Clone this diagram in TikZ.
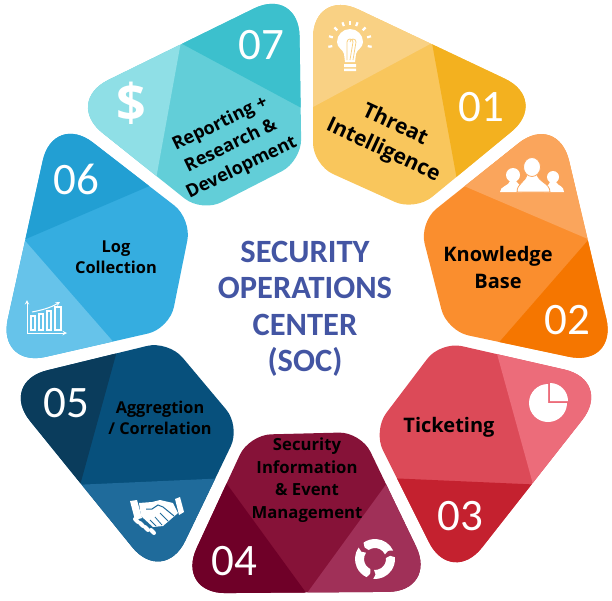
\documentclass[tikz,border=0pt]{standalone}
\usepackage{fontspec}
\setmainfont{Open Sans}
\newfontfamily\titlefont{Carlito}
\definecolor{lite1}{HTML}{F9D184}\definecolor{mid1}{HTML}{F9C65C}\definecolor{dark1}{HTML}{F3B11F}
\definecolor{lite2}{HTML}{FAA55C}\definecolor{mid2}{HTML}{FA8E2E}\definecolor{dark2}{HTML}{F57600}
\definecolor{lite3}{HTML}{EC6C7A}\definecolor{mid3}{HTML}{DC4A58}\definecolor{dark3}{HTML}{C4212F}
\definecolor{lite4}{HTML}{A03058}\definecolor{mid4}{HTML}{861238}\definecolor{dark4}{HTML}{6F0028}
\definecolor{lite5}{HTML}{1F6B9B}\definecolor{mid5}{HTML}{07507C}\definecolor{dark5}{HTML}{0A3C5C}
\definecolor{lite6}{HTML}{66C3EA}\definecolor{mid6}{HTML}{35ADE0}\definecolor{dark6}{HTML}{229FD3}
\definecolor{lite7}{HTML}{8FDFE6}\definecolor{mid7}{HTML}{62CED8}\definecolor{dark7}{HTML}{3CC0CD}
\definecolor{titleblue}{HTML}{4355A3}
\tikzset{
    lbl/.style={font=\bfseries\fontsize{20}{27}\selectfont, align=center, text=black, inner sep=0pt},
    num/.style={font=\titlefont\fontsize{45}{45}\selectfont, text=white, inner sep=0pt},
    icon/.style={fill=white, draw=none}
}
\newcommand{\petalpath}{(313,60) [rounded corners=50pt] -- (313,-12) -- (550,100) [rounded corners=22pt] -- (415,211) -- (313,165) -- cycle}
\begin{document}
\begin{tikzpicture}[x=1pt, y=-1pt]
    \useasboundingbox (0,0) rectangle (612,600);

    % Seven petals, one outline turned round the centre
    \foreach \n [evaluate=\n as \ang using -(\n-1)*360/7] in {1,...,7} {
        \begin{scope}[rotate around={\ang:(306.5,304)}]
            \clip \petalpath;
            \fill[mid\n] (300,-20) rectangle (560,220);
            \fill[lite\n] (300,-20) -- (432,43) -- (300,114) -- cycle;
            \fill[dark\n] (432,43) -- (560,100) -- (560,180) -- (457,180) -- cycle;
        \end{scope}
    }

    % Title
    \node[font=\titlefont\bfseries\fontsize{32.5}{36.5}\selectfont, text=titleblue, align=center, inner sep=0pt] (title) at (305,309)
        {SECURITY\\OPERATIONS\\CENTER\\(SOC)};

    % Numbers
    \node[num] (n01) at (481,107) {01};
    \node[num] (n02) at (567,320) {02};
    \node[num] (n03) at (460,516) {03};
    \node[num] (n04) at (234,561) {04};
    \node[num] (n05) at (66,403) {05};
    \node[num] (n06) at (76,179) {06};
    \node[num] (n07) at (261,45) {07};

    % Labels
    \node[lbl, rotate=-25, font=\bfseries\fontsize{21}{28}\selectfont] (threat) at (389,138) {Threat\\Intelligence};
    \node[lbl] (knowledge) at (498,267) {Knowledge\\Base};
    \node[lbl] (ticketing) at (449,427) {Ticketing};
    \node[lbl, font=\bfseries\fontsize{16.7}{22.5}\selectfont] (siem) at (307,480) {Security\\Information\\\& Event\\Management};
    \node[lbl, font=\bfseries\fontsize{16.3}{21.5}\selectfont] (aggregation) at (160,418) {Aggregtion\\/ Correlation};
    \node[lbl, font=\bfseries\fontsize{16.4}{21.5}\selectfont] (logs) at (116,257) {Log\\Collection};
    \node[lbl, rotate=26, font=\bfseries\fontsize{18}{24.5}\selectfont] (reporting) at (231,146) {Reporting +\\Research \&\\Development};

    % Bulb
    \fill[icon] (344,54) .. controls (343,49) and (337,48) .. (337,42) arc[start angle=180, end angle=0, radius=13pt]
        .. controls (363,48) and (357,49) .. (356,54) -- (355,62) -- (345,62) -- cycle;
    \draw[lite1, line width=.8pt] (347,60) -- (347,42) arc[start angle=180, end angle=0, radius=3pt] -- (350,60)
        (350,42) arc[start angle=180, end angle=0, radius=3pt] -- (353,60);
    \fill[icon] (344,64) rectangle (356,67) (344,68.5) rectangle (356,71);
    \foreach \a in {-10,18,45,70,90,110,135,162,190}
        \draw[white, line width=2.2pt, shift={(350,43)}] (\a:18pt) -- (\a:22pt);

    % People
    \fill[icon] (513,175) circle (7pt) (553,177) circle (6pt);
    \fill[icon] (500,192) .. controls (500,186) and (509,186) .. (510,181) -- (516,181) .. controls (519,186) and (524,186) .. (522,192) -- cycle;
    \fill[icon] (544,192) .. controls (544,186) and (549,186) .. (550,182) -- (556,182) .. controls (558,186) and (564,186) .. (564,192) -- cycle;
    \fill[icon, draw=lite2, line width=.8pt] (517,192) .. controls (517,183) and (526,182) .. (527,174) -- (537,174) .. controls (538,182) and (550,183) .. (550,192) -- cycle;
    \fill[icon, draw=lite2, line width=.8pt] (532,167) ellipse (8.5pt and 9.5pt);

    % Pie
    \fill[icon] (548,403) -- (548,384) arc[start angle=90, end angle=360, radius=19pt] -- cycle;
    \fill[icon] (550,401) -- (550,383) arc[start angle=90, end angle=0, radius=18pt] -- cycle;

    % Cycle
    \foreach \r in {0,120,240} {
        \fill[icon, shift={(375,559)}, rotate=\r] (25:20pt) arc[start angle=25, end angle=125, radius=20pt]
            -- (132:15.5pt) -- (125:11pt) arc[start angle=125, end angle=25, radius=11pt] -- (32:15.5pt) -- cycle;
    }

    % Handshake
    \fill[icon] (130,501) -- (137,500) -- (142,518) -- (135,520) -- cycle;
    \fill[icon] (175,499) -- (180,497) -- (184,512) -- (179,515) -- cycle;
    \fill[icon] (139,503) -- (152,502) -- (160,500) -- (173,503) -- (178,513) -- (163,526) -- (153,527) -- (141,516) -- cycle;
    \draw[lite5, line width=1pt] (146,509) -- (152,509) -- (158,505) -- (163,507) -- (174,516);
    \draw[lite5, line width=.8pt] (160,513) -- (168,521) (155,517) -- (162,525) (150,520) -- (156,526);
    \foreach \fx/\fy in {135/519,140/523,145/527,151/530}
        \draw[white, line width=4pt, line cap=round] (\fx,\fy) -- (\fx+3,\fy+3);

    % Chart
    \draw[white, line width=1pt, -stealth] (27,333) -- (27,300);
    \draw[white, line width=1pt, -stealth] (27,333) -- (67,333);
    \draw[white, line width=1.4pt] (31,330) rectangle (35,316) (39,330) rectangle (43,314) (47,330) rectangle (51,311) (55,330) rectangle (61,307);
    \draw[white, line width=1pt, -stealth] (32,312) .. controls (42,310) and (50,308) .. (60,302);

    % Dollar
    \node[font=\bfseries\fontsize{52}{52}\selectfont, text=white, inner sep=0pt] (dollar) at (131,103) {\$};
\end{tikzpicture}
\end{document}
